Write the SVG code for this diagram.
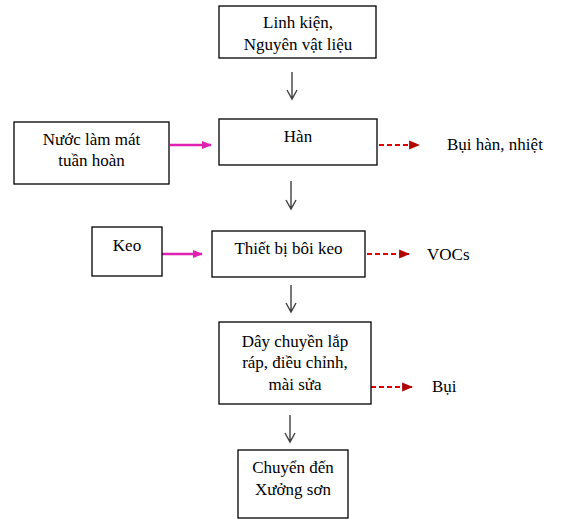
<svg xmlns="http://www.w3.org/2000/svg" width="579" height="526" viewBox="0 0 579 526" font-family="Liberation Serif, serif">
<style>
.box{fill:#fff;stroke:#000;stroke-width:1.3}
text{font-family:'Liberation Serif',serif;font-size:17px;fill:#000}
.c{text-anchor:middle}
.down{stroke:#404040;stroke-width:1.4;fill:none}
.mag{stroke:#e020b0;stroke-width:2.5;fill:none}
.red{stroke:#e00000;stroke-width:2;stroke-dasharray:5 3;fill:none}
</style>
<defs>
<marker id="mh" viewBox="0 0 10 10" refX="9" refY="5" markerWidth="4" markerHeight="4" orient="auto" markerUnits="strokeWidth">
<path d="M0,1 L10,5 L0,9 z" fill="#e020b0"/>
</marker>
<marker id="rh" viewBox="0 0 10 10" refX="9" refY="5" markerWidth="5.5" markerHeight="5.5" orient="auto" markerUnits="strokeWidth">
<path d="M0,1 L10,5 L0,9 z" fill="#b00000"/>
</marker>
</defs>
<rect width="579" height="526" fill="#fff"/>
<g id="connectors">
<path class="down" d="M292,72 V99 M287,90 L292,99 L297,90"/>
<path class="down" d="M291,181 V209 M286,200 L291,209 L296,200"/>
<path class="down" d="M291,285 V312 M286,303 L291,312 L296,303"/>
<path class="down" d="M290,415 V442 M285,433 L290,442 L295,433"/>
<line class="mag" x1="170" y1="145" x2="211" y2="145" marker-end="url(#mh)"/>
<line class="mag" x1="160" y1="254" x2="202" y2="254" marker-end="url(#mh)"/>
<line class="red" x1="379" y1="145" x2="419" y2="145" marker-end="url(#rh)"/>
<line class="red" x1="367" y1="254" x2="409" y2="254" marker-end="url(#rh)"/>
<line class="red" x1="371" y1="387" x2="412" y2="387" marker-end="url(#rh)"/>
</g>
<g id="n1"><rect class="box" x="219" y="6" width="157" height="52"/>
<text class="c" x="298" y="28">Linh kiện,</text><text class="c" x="298" y="50">Nguyên vật liệu</text></g>
<g id="n2"><rect class="box" x="14" y="122" width="155" height="62"/>
<text class="c" x="91.5" y="145">Nước làm mát</text><text class="c" x="91.5" y="166">tuần hoàn</text></g>
<g id="n3"><rect class="box" x="219" y="119" width="158" height="46"/>
<text class="c" x="298" y="142">Hàn</text></g>
<g id="n4"><text x="447" y="150">Bụi hàn, nhiệt</text></g>
<g id="n5"><rect class="box" x="92" y="227" width="70" height="49"/>
<text class="c" x="127" y="251">Keo</text></g>
<g id="n6"><rect class="box" x="212" y="231" width="153" height="46"/>
<text class="c" x="288.5" y="254">Thiết bị bôi keo</text></g>
<g id="n7"><text x="427" y="260">VOCs</text></g>
<g id="n8"><rect class="box" x="219" y="322" width="152" height="82"/>
<text class="c" x="295" y="347">Dây chuyền lắp</text><text class="c" x="295" y="368">ráp, điều chỉnh,</text><text class="c" x="295" y="390">mài sửa</text></g>
<g id="n9"><text x="432" y="392">Bụi</text></g>
<g id="n10"><rect class="box" x="238" y="450" width="110" height="68"/>
<text class="c" x="293" y="473">Chuyển đến</text><text class="c" x="293" y="495">Xưởng sơn</text></g>
</svg>
